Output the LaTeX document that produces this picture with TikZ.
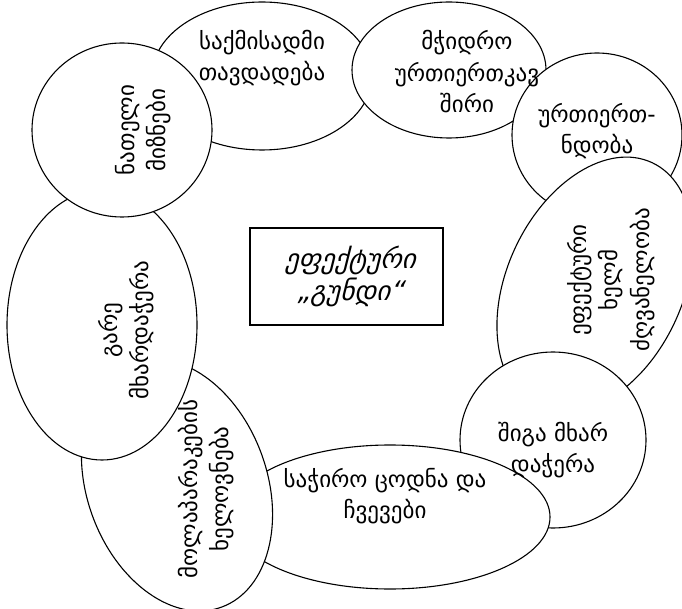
\documentclass[tikz,border=0pt]{standalone}
\usepackage{fontspec}
\setmainfont{DejaVu Sans}
\newfontfamily\geoslant[FakeSlant=0.25]{DejaVu Sans}

\begin{document}
\begin{tikzpicture}[x=1pt,y=1pt,
  bubble/.style={draw,line width=1.1pt,fill=white},
  lbl/.style={align=center,inner sep=0pt,font=\fontsize{23}{31.5}\selectfont}]
\useasboundingbox (0,0) rectangle (682,608);
\draw[bubble] (262,532) ellipse [x radius=110pt,y radius=74pt];
\draw[bubble] (449,538) ellipse [x radius=97pt,y radius=68pt];
\draw[bubble] (597,473) ellipse [x radius=85pt,y radius=82pt];
\draw[bubble] (595,323) ellipse [x radius=135pt,y radius=88pt,rotate=65];
\draw[bubble] (553,168) ellipse [x radius=93pt,y radius=88pt];
\draw[bubble] (390,91) ellipse [x radius=160pt,y radius=72pt];
\draw[bubble] (177,123) ellipse [x radius=130pt,y radius=90pt,rotate=-70];
\draw[bubble] (102,283) ellipse [x radius=95pt,y radius=135pt];
\draw[bubble] (122,478) ellipse [x radius=90pt,y radius=87pt];
\draw[line width=1.1pt] (250,283) rectangle (443,380);

\node[lbl] (devotion) at (262,550) {საქმისადმი\\თავდადება};
\node[lbl] (bond) at (467,536) {მჭიდრო\\ურთიერთკავ\\შირი};
\node[lbl] (trust) at (597,477) {ურთიერთ-\\ნდობა};
\node[lbl,rotate=90] (leader) at (611,328) {ეფექტური\\ხელმ\\ძღვანელობა};
\node[lbl] (inner) at (553,158) {შიგა მხარ\\დაჭერა};
\node[lbl] (skills) at (385,112) {საჭირო ცოდნა და\\ჩვევები};
\node[lbl,rotate=90] (talks) at (206,119) {მოლაპარაკების\\ხელოვნება};
\node[lbl,rotate=90] (outer) at (126,278) {გარე\\მხარდაჭერა};
\node[lbl,rotate=90] (goals) at (143,478) {ნათელი\\მიზნები};
\node[lbl,font=\geoslant\fontsize{27}{32}\selectfont] (team) at (350,332) {ეფექტური\\„გუნდი“};
\end{tikzpicture}
\end{document}
